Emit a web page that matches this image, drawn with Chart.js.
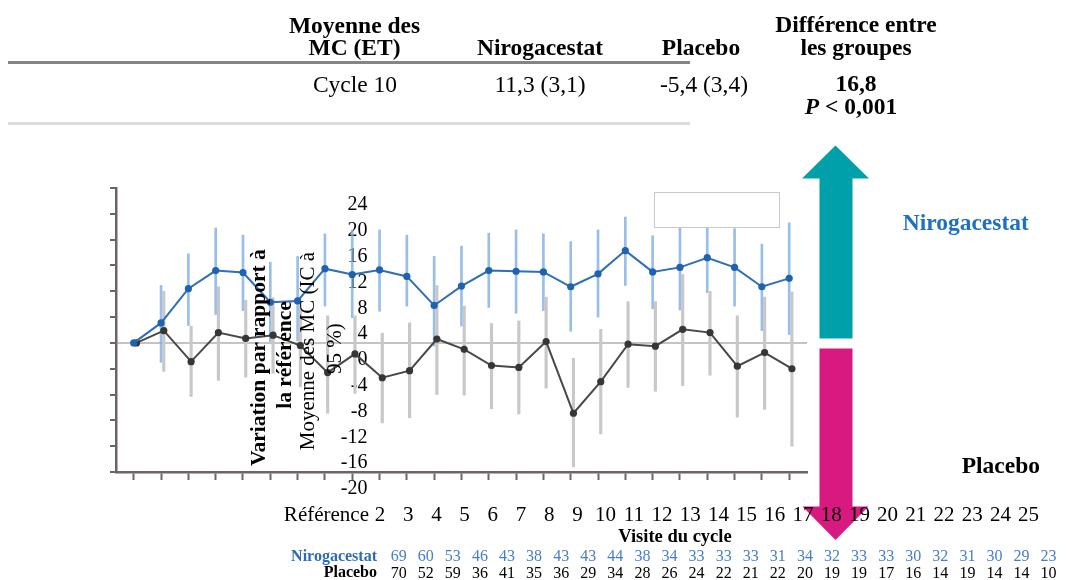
<!DOCTYPE html>
<html lang="fr">
<head>
<meta charset="utf-8">
<title>Variation par rapport à la référence</title>
<script src="https://cdn.jsdelivr.net/npm/chart.js@4.4.1/dist/chart.umd.min.js"></script>
<style>
  html, body { margin: 0; padding: 0; background: #fff; }
  #stage { position: relative; width: 1090px; height: 580px; overflow: hidden; }
  #stage svg { position: absolute; left: 0; top: 0; }
  #arrows { z-index: 1; }
  #chartWrap { position: absolute; left: 0; top: 0; width: 1090px; height: 580px; z-index: 2; }
  #overlay { z-index: 3; pointer-events: none; }
</style>
</head>
<body>
<div id="stage">
  <!-- direction arrows (behind the chart so the axis labels sit on top) -->
  <svg id="arrows" width="1090" height="580">
    <polygon points="835.5,145.5 869,178.5 852.5,178.5 852.5,338.5 819.5,338.5 819.5,178.5 802,178.5" fill="#00a0aa"/>
    <polygon points="819.5,348.5 852.5,348.5 852.5,506.5 868.5,506.5 835.5,540 802.5,506.5 819.5,506.5" fill="#d81a80"/>
  </svg>

  <div id="chartWrap"><canvas id="chart"></canvas></div>

  <svg id="overlay" width="1090" height="580" font-family="Liberation Serif, Times New Roman, serif">
    <!-- summary table -->
    <g font-weight="bold" font-size="23.5" text-anchor="middle" fill="#000">
      <text x="354.5" y="32.5">Moyenne des</text>
      <text x="354.5" y="55">MC (ET)</text>
      <text x="540" y="55">Nirogacestat</text>
      <text x="701" y="55">Placebo</text>
      <text x="856" y="31.5">Différence entre</text>
      <text x="856" y="55">les groupes</text>
      <text id="diffText" x="856" y="91"></text>
      <text x="851" y="114"><tspan font-style="italic">P</tspan> &lt; <tspan id="pText"></tspan></text>
    </g>
    <g font-size="23.5" text-anchor="middle" fill="#000">
      <text id="rowLabel" x="355" y="91.5"></text>
      <text id="nirCell" x="540" y="91.5"></text>
      <text id="plaCell" x="704" y="91.5"></text>
    </g>
    <rect x="8" y="61" width="682" height="3" fill="#858585"/>
    <rect x="8" y="122" width="682" height="3" fill="#dcdcdc"/>

    <!-- empty legend frame -->
    <rect x="654.5" y="192.5" width="125" height="35" fill="#fff" stroke="#c8c8c8" stroke-width="1"/>

    <!-- y-axis titles -->
    <text transform="translate(0,355) rotate(-90)" text-anchor="middle" font-weight="bold" font-size="21.5" fill="#000">
      <tspan x="0" y="264.6">Variation par rapport à</tspan>
      <tspan x="0" y="291">la référence</tspan>
    </text>
    <text transform="translate(0,348.5) rotate(-90)" text-anchor="middle" font-size="21" fill="#000">
      <tspan x="0" y="313.6">Moyenne des MC (IC à</tspan>
      <tspan x="0" y="341">95 %)</tspan>
    </text>

    <!-- group labels beside the arrows -->
    <text x="902.7" y="230" font-weight="bold" font-size="23.5" fill="#1e70c1">Nirogacestat</text>
    <text x="961.7" y="473.3" font-weight="bold" font-size="23.5" fill="#000">Placebo</text>

    <!-- x-axis title and at-risk row headers -->
    <text x="675" y="542" text-anchor="middle" font-weight="bold" font-size="18.5" fill="#000">Visite du cycle</text>
    <text x="377" y="561" text-anchor="end" font-weight="bold" font-size="16" fill="#2c6cb5">Nirogacestat</text>
    <text x="377" y="577.3" text-anchor="end" font-weight="bold" font-size="16" fill="#000">Placebo</text>
  </svg>
</div>

<script>
// ---- data ---------------------------------------------------------------
const cycleLabels = ['Référence', '2', '3', '4', '5', '6', '7', '8', '9', '10', '11', '12', '13',
  '14', '15', '16', '17', '18', '19', '20', '21', '22', '23', '24', '25'];

// least-squares mean change from baseline, by visit
const nirogacestat = [0, 3.1, 8.4, 11.2, 10.9, 6.3, 6.5, 11.5, 10.6, 11.3, 10.3, 5.8, 8.8,
  11.2, 11.1, 11.0, 8.7, 10.7, 14.3, 11.0, 11.7, 13.2, 11.7, 8.7, 10.0];
const nirogacestatLow = [null, -3.0, 2.7, 4.4, 5.0, 0.2, 0.3, 5.7, 3.9, 4.9, 5.7, -0.5, 2.6,
  5.5, 4.6, 5.0, 1.8, 4.0, 8.9, 5.3, 5.1, 7.8, 5.7, 1.9, 1.3];
const nirogacestatHigh = [null, 8.9, 13.8, 17.8, 16.7, 12.5, 13.4, 16.9, 17.5, 17.5, 16.7, 13.4, 15.0,
  17.0, 17.5, 16.9, 15.7, 17.5, 19.5, 16.6, 18.3, 18.6, 17.7, 15.3, 18.6];

const placebo = [0, 1.9, -2.9, 1.6, 0.7, 1.2, -0.4, -4.6, -1.7, -5.4, -4.3, 0.6, -1.0,
  -3.5, -3.8, 0.2, -10.9, -6.0, -0.2, -0.5, 2.1, 1.6, -3.6, -1.5, -4.0];
const placeboLow = [null, -4.4, -8.3, -5.8, -5.3, -4.7, -6.8, -10.9, -7.8, -12.4, -11.6, -8.0, -8.1,
  -10.2, -11.0, -7.0, -19.2, -14.1, -6.9, -7.5, -6.6, -5.0, -11.5, -10.3, -16.0];
const placeboHigh = [null, 8.0, 2.6, 8.7, 6.6, 7.0, 6.0, 4.2, 4.2, 1.5, 3.1, 8.9, 5.7,
  3.0, 3.4, 7.1, -2.4, 2.1, 6.4, 6.4, 10.6, 8.0, 4.2, 7.1, 7.9];

// patients assessed at each visit
const nirogacestatN = [69, 60, 53, 46, 43, 38, 43, 43, 44, 38, 34, 33, 33, 33, 31, 34, 32, 33,
  33, 30, 32, 31, 30, 29, 23];
const placeboN = [70, 52, 59, 36, 41, 35, 36, 29, 34, 28, 26, 24, 22, 21, 22, 20, 19, 19,
  17, 16, 14, 19, 14, 14, 10];

const yTickValues = [24, 20, 16, 12, 8, 4, 0, -4, -8, -12, -16, -20];

// cycle 10 summary
const summaryCycle = '10';
const nirogacestatSE = 3.1;
const placeboSE = 3.4;
const differenceText = '16,8';
const pValueText = '0,001';

// ---- summary table text ----------------------------------------------
const fr = v => v.toFixed(1).replace('.', ',');
const c10 = cycleLabels.indexOf(summaryCycle);
document.getElementById('rowLabel').textContent = 'Cycle ' + summaryCycle;
document.getElementById('nirCell').textContent = fr(nirogacestat[c10]) + ' (' + fr(nirogacestatSE) + ')';
document.getElementById('plaCell').textContent = fr(placebo[c10]) + ' (' + fr(placeboSE) + ')';
document.getElementById('diffText').textContent = differenceText;
document.getElementById('pText').textContent = pValueText;

// ---- layout ---------------------------------------------------------------
const W = 1090, H = 580;
const PLOT = { left: 116, right: 807, top: 188, bottom: 472 };
const FONT = "'Liberation Serif', 'Times New Roman', serif";
const AXIS_COLOR = '#6d6466';
const PLACEBO_SHIFT = 0.1;   // placebo marks sit just right of the nirogacestat ones
const REF_GAP = 1.9;         // extra room for the wide "Référence" label

// value range giving value 0 at pixel px0 and `step` pixels per unit across the plot width
function linearSpan(px0, step) {
  const min = (PLOT.left - px0) / step;
  return { min, max: min + (PLOT.right - PLOT.left) / step };
}
const mainSpan = linearSpan(133.75, 27.31);
const labelSpan = linearSpan(351.8, 28.2);
const countSpan = linearSpan(398.7, 27.08);
const yLabelAnchor = (367.5 - 133.75) / 27.31;

const idx = cycleLabels.map((_, i) => i);
const points = (vals, shift) => vals.map((v, i) => ({ x: i + shift, y: v }));
const ranges = (lo, hi, shift) => lo
  .map((l, i) => (l === null ? null : { x: i + shift, y: [l, hi[i]] }))
  .filter(Boolean);

const hidden = { display: false };
const rowAxis = (span, values, labels, padding, size, color) => ({
  type: 'linear',
  position: { y: -20 },
  min: span.min,
  max: span.max,
  afterBuildTicks: s => { s.ticks = values.map(v => ({ value: v })); },
  afterFit: s => { s.paddingLeft = 0; s.paddingRight = 0; },
  grid: hidden,
  border: hidden,
  ticks: {
    autoSkip: false, maxRotation: 0, minRotation: 0, padding,
    color, font: { family: FONT, size },
    callback: (v, i) => labels[i]
  }
});

new Chart(document.getElementById('chart'), {
  type: 'line',
  data: {
    datasets: [
      {
        type: 'bar', label: 'IC 95 % nirogacestat',
        data: ranges(nirogacestatLow, nirogacestatHigh, 0),
        backgroundColor: 'rgba(128,174,226,0.8)', borderWidth: 0,
        barThickness: 2, grouped: false, order: 4
      },
      {
        type: 'bar', label: 'IC 95 % placebo',
        data: ranges(placeboLow, placeboHigh, PLACEBO_SHIFT),
        backgroundColor: '#c8c8c8', borderWidth: 0,
        barThickness: 2.5, grouped: false, order: 3
      },
      {
        label: 'Placebo', data: points(placebo, PLACEBO_SHIFT),
        borderColor: '#484848', borderWidth: 2, tension: 0,
        pointRadius: 3.6, pointBackgroundColor: '#363636', pointBorderWidth: 0, order: 2
      },
      {
        label: 'Nirogacestat', data: points(nirogacestat, 0),
        borderColor: '#2f6fb5', borderWidth: 2, tension: 0,
        pointRadius: 3.6, pointBackgroundColor: '#1f63b0', pointBorderWidth: 0, order: 1
      }
    ]
  },
  options: {
    responsive: true,
    maintainAspectRatio: false,
    animation: false,
    events: [],
    layout: {
      padding: { left: PLOT.left, right: W - PLOT.right, top: PLOT.top, bottom: H - PLOT.bottom }
    },
    plugins: { legend: hidden, tooltip: { enabled: false }, title: hidden },
    scales: {
      x: {
        type: 'linear', position: 'bottom', offset: false,
        min: mainSpan.min, max: mainSpan.max,
        afterBuildTicks: s => { s.ticks = idx.map(v => ({ value: v })); },
        afterFit: s => { s.height = 0; },
        ticks: { display: false },
        grid: {
          display: true, offset: false, drawOnChartArea: false, drawTicks: true,
          tickLength: 8, tickColor: AXIS_COLOR, tickWidth: 2
        },
        border: { display: true, color: AXIS_COLOR, width: 2.5 }
      },
      y: {
        type: 'linear', position: 'left',
        min: yTickValues[yTickValues.length - 1], max: yTickValues[0],
        afterBuildTicks: s => { s.ticks = yTickValues.map(v => ({ value: v })); },
        afterFit: s => { s.width = 0; },
        ticks: { display: false },
        grid: {
          drawOnChartArea: true, drawTicks: true, tickLength: 6,
          tickColor: AXIS_COLOR, tickWidth: 2,
          color: c => (c.tick && c.tick.value === 0 ? '#c4c4c4' : 'rgba(0,0,0,0)'),
          lineWidth: 2
        },
        border: { display: true, color: AXIS_COLOR, width: 2.5 }
      },
      yLbl: {
        type: 'linear', position: { x: yLabelAnchor },
        min: yTickValues[yTickValues.length - 1], max: yTickValues[0],
        afterBuildTicks: s => { s.ticks = yTickValues.map(v => ({ value: v })); },
        afterFit: s => { s.width = 0; },
        grid: hidden, border: hidden,
        ticks: {
          autoSkip: false, labelOffset: 17, color: '#000', font: { family: FONT, size: 20 },
          callback: v => String(v)
        }
      },
      xLbl: rowAxis(labelSpan, idx.map(i => (i === 0 ? 1 - REF_GAP : i)), cycleLabels, 22.6, 21, '#000'),
      xN1: rowAxis(countSpan, idx, nirogacestatN.map(String), 67.6, 16, '#4680c4'),
      xN2: rowAxis(countSpan, idx, placeboN.map(String), 83.9, 16, '#000')
    }
  }
});
</script>
</body>
</html>
